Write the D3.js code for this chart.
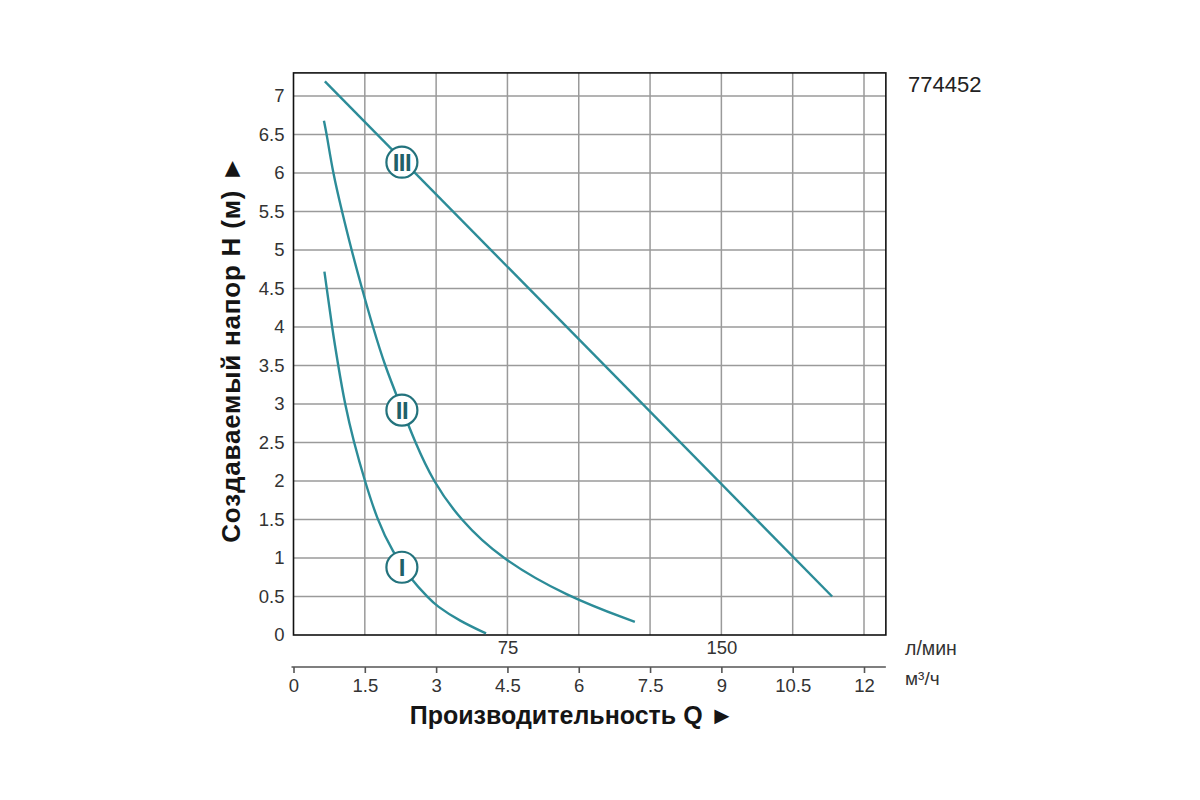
<!DOCTYPE html>
<html>
<head>
<meta charset="utf-8">
<script src="https://cdn.jsdelivr.net/npm/d3@7"></script>
<style>
  body { margin: 0; background: #fff; }
  svg text { font-family: "Liberation Sans", Arial, sans-serif; }
</style>
</head>
<body>
<div id="chart"></div>
<script>
// pump curves: Q in m3/h, H in m
var curveIq  = [0.65, 0.70, 0.81, 0.94, 1.08, 1.27, 1.50, 1.76, 2.07, 2.51, 2.83, 3.00, 3.50, 4.05];
var curveIh  = [4.72, 4.50, 4.00, 3.50, 3.00, 2.50, 2.00, 1.50, 1.09, 0.69, 0.49, 0.38, 0.18, 0.02];
var curveIIq = [0.64, 0.70, 0.83, 1.02, 1.22, 1.44, 1.67, 1.92, 2.24, 2.56, 2.93, 3.50, 4.34, 5.75, 7.18];
var curveIIh = [6.68, 6.50, 6.00, 5.50, 5.00, 4.50, 4.00, 3.50, 3.00, 2.50, 2.00, 1.50, 1.00, 0.50, 0.17];
var curveIIIq = [0.66, 11.33];
var curveIIIh = [7.19, 0.50];

var curveNames = ["I", "II", "III"];
var labelQ = [2.28, 2.28, 2.28];
var labelH = [0.88, 2.92, 6.14];

var yTicks = [0, 0.5, 1, 1.5, 2, 2.5, 3, 3.5, 4, 4.5, 5, 5.5, 6, 6.5, 7];
var xTicks = [0, 1.5, 3, 4.5, 6, 7.5, 9, 10.5, 12];
var lminTicks = [75, 150];

var qMax = 12.46, hMax = 7.3;
var lineColor = "#2c8c98";

var svg = d3.select("#chart").append("svg")
    .attr("width", 1200)
    .attr("height", 800);

var x = d3.scaleLinear().domain([0, 12]).range([293.5, 864]);
var y = d3.scaleLinear().domain([0, 7]).range([635, 96]);
// litres per minute along the same axis
var xl = d3.scaleLinear().domain([0, 12 * 1000 / 60]).range([293.5, 864]);

// grid
svg.append("g").selectAll("line").data(xTicks.filter(function(d) { return d > 0; }))
    .enter().append("line")
    .attr("x1", function(d) { return x(d); })
    .attr("x2", function(d) { return x(d); })
    .attr("y1", y(hMax)).attr("y2", y(0))
    .style("stroke", "#9a9a9a").style("stroke-width", 1.5);

svg.append("g").selectAll("line").data(yTicks.filter(function(d) { return d > 0; }))
    .enter().append("line")
    .attr("x1", x(0)).attr("x2", x(qMax))
    .attr("y1", function(d) { return y(d); })
    .attr("y2", function(d) { return y(d); })
    .style("stroke", "#9a9a9a").style("stroke-width", 1.5);

// frame
svg.append("rect")
    .attr("x", x(0)).attr("y", y(hMax))
    .attr("width", x(qMax) - x(0))
    .attr("height", y(0) - y(hMax))
    .style("fill", "none").style("stroke", "#111").style("stroke-width", 1.6);

// y axis labels
var yAxis = d3.axisLeft(y).tickValues(yTicks).tickSize(0).tickPadding(9)
    .tickFormat(function(d) { return String(d); });
var gy = svg.append("g").attr("transform", "translate(" + x(0) + ",0)").call(yAxis);
gy.select(".domain").remove();
gy.selectAll("text").style("font-size", "18.5px").style("fill", "#333")
    .style("font-family", "Liberation Sans, Arial, sans-serif");

// l/min labels
var lAxis = d3.axisBottom(xl).tickValues(lminTicks).tickSize(0).tickPadding(6);
var gl = svg.append("g").attr("transform", "translate(0," + y(0) + ")").call(lAxis);
gl.select(".domain").remove();
gl.selectAll("text").style("font-size", "18.5px").style("fill", "#333")
    .style("font-family", "Liberation Sans, Arial, sans-serif");

// m3/h axis
var xAxis = d3.axisBottom(x).tickValues(xTicks).tickSizeInner(6).tickSizeOuter(0).tickPadding(6)
    .tickFormat(function(d) { return String(d); });
var gx = svg.append("g").attr("transform", "translate(0,667)").call(xAxis);
gx.select(".domain").attr("d", "M" + (x(0) - 2) + ",0H" + x(qMax))
    .style("stroke", "#555").style("stroke-width", 1.6);
gx.selectAll(".tick line").style("stroke", "#555").style("stroke-width", 1.6);
gx.selectAll("text").style("font-size", "18.5px").style("fill", "#333")
    .style("font-family", "Liberation Sans, Arial, sans-serif");

// units
svg.append("text").attr("x", 905).attr("y", 655)
    .style("font-size", "19.5px").style("fill", "#333").text("л/мин");
svg.append("text").attr("x", 905).attr("y", 685)
    .style("font-size", "19px").style("fill", "#333").text("м³/ч");

// titles
svg.append("text")
    .attr("x", 572).attr("y", 724)
    .attr("text-anchor", "middle")
    .style("font-size", "25px").style("font-weight", "bold").style("fill", "#151515")
    .text("Производительность Q  ►");

svg.append("text")
    .attr("transform", "translate(240,349) rotate(-90)")
    .attr("text-anchor", "middle")
    .style("font-size", "26px").style("font-weight", "bold").style("fill", "#151515")
    .style("letter-spacing", "0.8px")
    .text("Создаваемый напор H (м)  ►");

svg.append("text").attr("x", 908).attr("y", 92)
    .style("font-size", "22px").style("fill", "#222").text("774452");

// curves
var curves = [
    d3.zip(curveIq, curveIh),
    d3.zip(curveIIq, curveIIh),
    d3.zip(curveIIIq, curveIIIh)
];

var line = d3.line()
    .x(function(d) { return x(d[0]); })
    .y(function(d) { return y(d[1]); })
    .curve(d3.curveBasis);

svg.append("g").selectAll("path").data(curves)
    .enter().append("path")
    .attr("d", line)
    .style("fill", "none")
    .style("stroke", lineColor)
    .style("stroke-width", 2.4);

// curve markers
var marks = svg.append("g").selectAll("g").data(curveNames)
    .enter().append("g")
    .attr("transform", function(d, i) { return "translate(" + x(labelQ[i]) + "," + y(labelH[i]) + ")"; });

marks.append("circle")
    .attr("r", 15.5)
    .style("fill", "#fff")
    .style("stroke", "#23737d")
    .style("stroke-width", 2.2);

marks.append("text")
    .attr("text-anchor", "middle")
    .attr("dy", "0.36em")
    .style("font-size", "24px")
    .style("font-weight", "bold")
    .style("letter-spacing", "-0.5px")
    .style("fill", "#1f6069")
    .text(function(d) { return d; });
</script>
</body>
</html>
